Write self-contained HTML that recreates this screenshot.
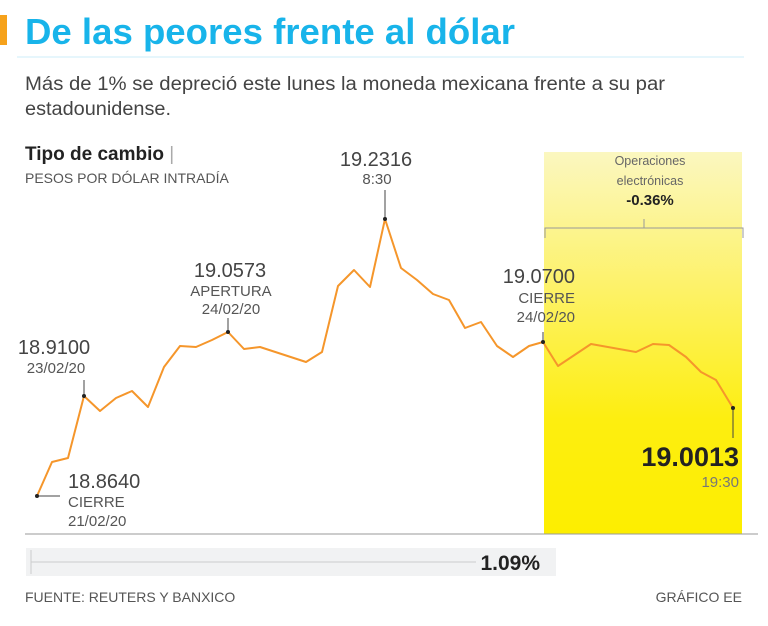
<!DOCTYPE html>
<html><head><meta charset="utf-8"><style>
body{margin:0;background:#fff;}
svg{display:block;font-family:"Liberation Sans",sans-serif;}
</style></head><body>
<svg width="768" height="626" viewBox="0 0 768 626" xmlns="http://www.w3.org/2000/svg">
<defs><linearGradient id="g" x1="0" y1="0" x2="0" y2="1">
<stop offset="0" stop-color="#fbf7c0"/><stop offset="0.35" stop-color="#fdf26a"/><stop offset="0.7" stop-color="#fdee10"/><stop offset="1" stop-color="#fdee00"/></linearGradient></defs>
<rect x="0" y="15" width="7" height="30" fill="#f6a21b"/>
<text x="25" y="44" font-size="36" font-weight="bold" fill="#18b4ea" textLength="490" lengthAdjust="spacingAndGlyphs">De las peores frente al dólar</text>
<line x1="17" y1="57" x2="744" y2="57" stroke="#cdeefa" stroke-width="1"/>
<text x="25" y="90" font-size="19" fill="#444" textLength="640" lengthAdjust="spacingAndGlyphs">Más de 1% se depreció este lunes la moneda mexicana frente a su par</text>
<text x="25" y="115" font-size="19" fill="#444" textLength="146" lengthAdjust="spacingAndGlyphs">estadounidense.</text>
<text x="25" y="160" font-size="19" font-weight="bold" fill="#222">Tipo de cambio <tspan fill="#aaa" font-weight="normal">|</tspan></text>
<text x="25" y="183" font-size="14" fill="#555">PESOS POR DÓLAR INTRADÍA</text>
<rect x="544" y="152" width="198" height="382" fill="url(#g)"/>
<text x="650" y="165" font-size="12.5" fill="#666" text-anchor="middle">Operaciones</text>
<text x="650" y="185" font-size="12.5" fill="#666" text-anchor="middle">electrónicas</text>
<text x="650" y="205" font-size="15" font-weight="bold" fill="#222" text-anchor="middle">-0.36%</text>
<path d="M545,238V228H743V238M644,228V219" fill="none" stroke="#999" stroke-width="1"/>
<line x1="25" y1="534" x2="758" y2="534" stroke="#999"/>
<polyline fill="none" stroke="#f5962b" stroke-width="2" stroke-linejoin="round" points="37,496 52,462 68,458 84,396 100,411 116,398 132,391 148,407 164,367 180,346 196,347 212,340 228,332 244,349 260,347 306,362 322,352 338,286 354,270 370,287 385,219 401,268 417,280 433,294 449,300 465,328 481,322 497,346 513,357 529,346 543,342 558,366 591,344 636,352 653,344 669,345 686,357 701,372 716,380 733,408"/>
<g stroke="#444" stroke-width="1">
<line x1="385" y1="190" x2="385" y2="219"/><line x1="228" y1="318" x2="228" y2="332"/>
<line x1="84" y1="380" x2="84" y2="396"/><line x1="543" y1="332" x2="543" y2="342"/>
<line x1="733" y1="408" x2="733" y2="438"/><line x1="37" y1="496" x2="60" y2="496"/>
</g>
<g fill="#222"><circle cx="385" cy="219" r="2"/><circle cx="228" cy="332" r="2"/><circle cx="84" cy="396" r="2"/><circle cx="543" cy="342" r="2"/><circle cx="733" cy="408" r="2"/><circle cx="37" cy="496" r="2"/></g>
<g font-size="20" fill="#444" text-anchor="middle">
<text x="376" y="166">19.2316</text><text x="230" y="277">19.0573</text><text x="54" y="354">18.9100</text>
</g>
<text x="575" y="283" font-size="20" fill="#444" text-anchor="end">19.0700</text>
<g font-size="15" fill="#555" text-anchor="middle">
<text x="377" y="184">8:30</text><text x="231" y="296">APERTURA</text><text x="231" y="314">24/02/20</text>
<text x="56" y="373">23/02/20</text>
</g>
<text x="575" y="303" font-size="15" fill="#555" text-anchor="end">CIERRE</text>
<text x="575" y="322" font-size="15" fill="#555" text-anchor="end">24/02/20</text>
<text x="68" y="488" font-size="20" fill="#444">18.8640</text>
<text x="68" y="507" font-size="15" fill="#555">CIERRE</text>
<text x="68" y="526" font-size="15" fill="#555">21/02/20</text>
<text x="739" y="466" font-size="27" font-weight="bold" fill="#222" text-anchor="end">19.0013</text>
<text x="739" y="487" font-size="15" fill="#777" text-anchor="end">19:30</text>
<rect x="26" y="548" width="530" height="28" fill="#f1f2f3"/>
<line x1="31" y1="562" x2="476" y2="562" stroke="#ccc"/><line x1="31" y1="550" x2="31" y2="574" stroke="#ccc"/>
<text x="540" y="570" font-size="21" font-weight="bold" fill="#222" text-anchor="end">1.09%</text>
<text x="25" y="602" font-size="14" fill="#555">FUENTE: REUTERS Y BANXICO</text>
<text x="742" y="602" font-size="14" fill="#555" text-anchor="end">GRÁFICO EE</text>
</svg>
</body></html>
